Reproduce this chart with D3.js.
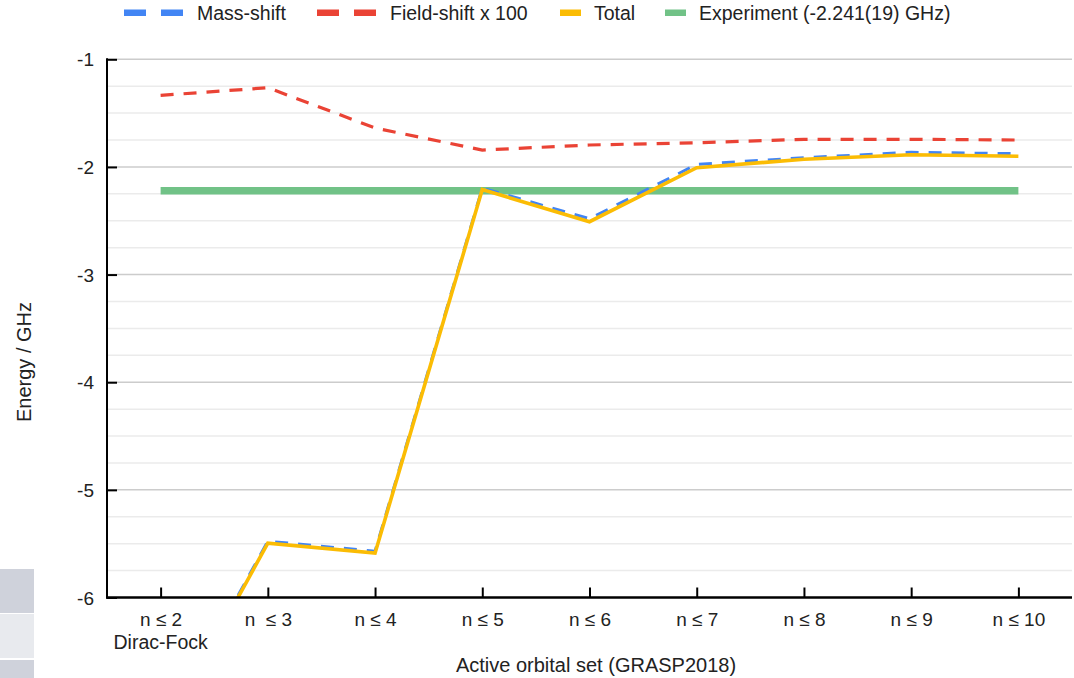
<!DOCTYPE html>
<html><head><meta charset="utf-8">
<script src="https://cdn.jsdelivr.net/npm/d3@7"></script>
<style>
html,body{margin:0;padding:0;background:#fff;}
svg{display:block;font-family:"Liberation Sans",Arial,sans-serif;}
text{white-space:pre;}
</style></head>
<body>
<svg id="chart" width="1074" height="678"></svg>
<script>
const categories = ["n ≤ 2", "n  ≤ 3", "n ≤ 4", "n ≤ 5", "n ≤ 6", "n ≤ 7", "n ≤ 8", "n ≤ 9", "n ≤ 10"];
const massShift  = [-7.29, -5.477, -5.57, -2.196, -2.481, -1.976, -1.914, -1.864, -1.877];
const fieldShift = [-1.335, -1.264, -1.638, -1.843, -1.796, -1.775, -1.743, -1.743, -1.75];
const total      = [-7.31, -5.495, -5.588, -2.21, -2.509, -2.007, -1.929, -1.887, -1.901];
const experiment = [-2.222, -2.222, -2.222, -2.222, -2.222, -2.222, -2.222, -2.222, -2.222];
const yTicks = [-6, -5, -4, -3, -2, -1];
const legendLabels = ["Mass-shift", "Field-shift x 100", "Total", "Experiment (-2.241(19) GHz)"];

const svg = d3.select("#chart");
const L = 107, R = 1072, T = 59.3, B = 597.5;
const x = d3.scalePoint().domain(categories).range([L, R]).padding(0.5);
const y = d3.scaleLinear().domain([-6, -1]).range([B, T]);
const TXT = "#222";

// background artifact boxes (bottom-left)
svg.append("rect").attr("x",0).attr("y",569).attr("width",34).attr("height",44).attr("fill","#cfd2db");
svg.append("rect").attr("x",0).attr("y",614).attr("width",34).attr("height",44).attr("fill","#e8eaee");
svg.append("rect").attr("x",0).attr("y",660).attr("width",34).attr("height",18).attr("fill","#cfd2db");

// minor gridlines
const minor = d3.range(-6, -1, 0.25).filter(v => Math.abs(v - Math.round(v)) > 1e-6);
svg.append("g").selectAll("line").data(minor).join("line")
  .attr("x1", L).attr("x2", R).attr("y1", d => y(d)).attr("y2", d => y(d))
  .attr("stroke", "#ebebeb").attr("stroke-width", 1.5);
// major gridlines
svg.append("g").selectAll("line").data(yTicks.filter(v => v > -6)).join("line")
  .attr("x1", L).attr("x2", R).attr("y1", d => y(d)).attr("y2", d => y(d))
  .attr("stroke", "#cccccc").attr("stroke-width", 1.5);

// clip
svg.append("clipPath").attr("id","clip").append("rect")
  .attr("x", L).attr("y", T - 5).attr("width", R - L).attr("height", B - T + 5);

const line = d3.line().x((d,i) => x(categories[i])).y(d => y(d));
const plot = svg.append("g").attr("clip-path","url(#clip)");

plot.append("path").datum(experiment).attr("d", line).attr("fill","none")
  .attr("stroke","#71c287").attr("stroke-width",7.5);
plot.append("path").datum(massShift).attr("d", line).attr("fill","none")
  .attr("stroke","#4285f4").attr("stroke-width",3).attr("stroke-dasharray","13,10");
plot.append("path").datum(fieldShift).attr("d", line).attr("fill","none")
  .attr("stroke","#ea4335").attr("stroke-width",3.2).attr("stroke-dasharray","13,10");
plot.append("path").datum(total).attr("d", line).attr("fill","none")
  .attr("stroke","#fbbc04").attr("stroke-width",3.6).attr("stroke-linejoin","miter");

// axes
const yAxis = d3.axisRight(y).tickValues(yTicks).tickSize(10).tickFormat(d => String(d));
const gy = svg.append("g").attr("transform", `translate(${L},0)`).call(yAxis);
gy.select(".domain").remove();
gy.selectAll(".tick line").attr("stroke","#000").attr("stroke-width",2);
gy.selectAll(".tick text").attr("x", -13).attr("dy","0.35em").attr("text-anchor","end")
  .attr("font-size",19).attr("fill",TXT).attr("font-family","Liberation Sans, Arial, sans-serif");

const xAxis = d3.axisTop(x).tickSize(10).tickFormat("");
const gx = svg.append("g").attr("transform", `translate(0,${B})`).call(xAxis);
gx.select(".domain").remove();
gx.selectAll(".tick line").attr("stroke","#000").attr("stroke-width",2);
gx.selectAll(".tick").append("text").attr("y", 28).attr("text-anchor","middle")
  .attr("font-size",19).attr("fill",TXT).attr("font-family","Liberation Sans, Arial, sans-serif")
  .text(d => d);
svg.append("text").attr("x", x(categories[0])).attr("y", B + 51).attr("text-anchor","middle")
  .attr("font-size",19.5).attr("fill",TXT).text("Dirac-Fock");

// axis lines
svg.append("line").attr("x1", L).attr("x2", L).attr("y1", T - 1).attr("y2", B + 1)
  .attr("stroke","#000").attr("stroke-width",2);
svg.append("line").attr("x1", L - 1).attr("x2", R).attr("y1", B).attr("y2", B)
  .attr("stroke","#000").attr("stroke-width",2.4);

// axis titles
svg.append("text").attr("x", 596).attr("y", 672).attr("text-anchor","middle")
  .attr("font-size",20).attr("fill",TXT).text("Active orbital set (GRASP2018)");
svg.append("text").attr("transform","translate(31,362) rotate(-90)").attr("text-anchor","middle")
  .attr("font-size",20).attr("fill",TXT).text("Energy / GHz");

// legend
const legendData = [
  {label: legendLabels[0], color: "#4285f4", dashed: true},
  {label: legendLabels[1], color: "#ea4335", dashed: true},
  {label: legendLabels[2], color: "#fbbc04", dashed: false},
  {label: legendLabels[3], color: "#71c287", dashed: false}
];
const starts = [124, 317, 560, 665];
const lg = svg.append("g");
legendData.forEach((item, i) => {
  const g = lg.append("g");
  let cx = starts[i];
  if (item.dashed) {
    g.append("rect").attr("x", cx).attr("y", 9.5).attr("width", 22).attr("height", 6.5).attr("fill", item.color);
    g.append("rect").attr("x", cx + 37).attr("y", 9.5).attr("width", 22).attr("height", 6.5).attr("fill", item.color);
    cx += 73;
  } else {
    g.append("rect").attr("x", cx).attr("y", 9.5).attr("width", 21).attr("height", 6.5).attr("fill", item.color);
    cx += 34;
  }
  g.append("text").attr("x", cx).attr("y", 19.5).attr("font-size", 19.5).attr("fill",TXT).text(item.label);
});
</script>
</body></html>
